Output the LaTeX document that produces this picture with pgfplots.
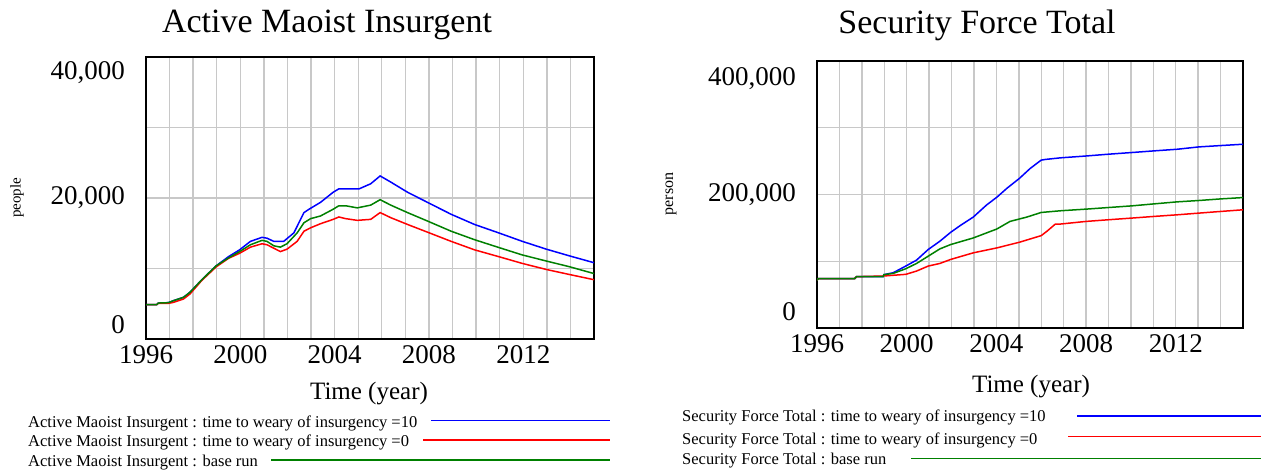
\documentclass[border=0pt]{standalone}
\usepackage{pgfplots}
\pgfplotsset{compat=1.18}
\usepackage{fontspec}
\setmainfont{Liberation Serif}
\definecolor{vblue}{RGB}{0,0,255}
\definecolor{vred}{RGB}{255,0,0}
\definecolor{vgreen}{RGB}{0,128,0}
\definecolor{vgrid}{RGB}{200,200,200}
\pgfplotsset{
  vensim/.style={
    scale only axis,
    xmin=1996, xmax=2015, ymin=0,
    scaled x ticks=false, scaled y ticks=false,
    axis line style={line width=2.8pt, black},
    major tick length=0pt, minor tick length=0pt,
    xtick={1996,2000,2004,2008,2012},
    xticklabels={1996,2000,2004,2008,2012},
    minor xtick={1997,1998,1999,2001,2002,2003,2005,2006,2007,2009,2010,2011,2013,2014},
    xmajorgrids=true, ymajorgrids=false,
    xminorgrids=true, yminorgrids=true,
    major grid style={draw=vgrid, line width=1.4pt},
    minor grid style={draw=vgrid, line width=1.4pt},
    tick label style={font=\fontsize{27}{27}\selectfont, inner sep=0pt},
    xticklabel style={anchor=north, yshift=-6pt},
    yticklabel style={anchor=east, xshift=-21pt},
    /pgf/number format/assume math mode=true,
    every axis plot/.append style={line width=1.5pt},
  }
}
\begin{document}
\begin{tikzpicture}[x=1pt,y=1pt]
\useasboundingbox (0,0) rectangle (1263,471);
% ---------------- Left panel ----------------
\begin{axis}[vensim, at={(146pt,132pt)}, anchor=south west,
  width=448pt, height=282pt, ymax=40000,
  ytick={1990,20000,37730}, yticklabels={0,{20,000},{40,000}},
  minor ytick={10000,20000,30000}]
\addplot[vblue] coordinates {(1996.0,4860) (1996.45,4860) (1996.52,5100) (1996.95,5150) (1997.16,5430) (1997.59,5910) (1997.87,6640) (1998.37,8410) (1998.98,10390) (1999.50,11680) (1999.97,12650) (2000.43,13850) (2000.92,14420) (2001.13,14300) (2001.42,13850) (2001.84,13850) (2002.27,15050) (2002.70,17930) (2002.91,18400) (2003.40,19380) (2003.94,20820) (2004.18,21300) (2005.04,21300) (2005.53,22020) (2005.93,23130) (2006.38,22260) (2007.09,20820) (2007.94,19380) (2008.94,17690) (2009.93,16250) (2010.96,15050) (2011.96,13850) (2012.98,12740) (2013.97,11780) (2015.0,10820)};
\addplot[vred] coordinates {(1996.0,4860) (1996.45,4860) (1996.52,5050) (1996.95,5050) (1997.16,5190) (1997.59,5670) (1997.87,6400) (1998.37,8320) (1998.98,10240) (1999.50,11440) (1999.97,12160) (2000.43,13030) (2000.92,13510) (2001.13,13370) (2001.70,12400) (2001.98,12740) (2002.41,13850) (2002.70,15290) (2002.98,15770) (2003.40,16350) (2003.94,16970) (2004.18,17310) (2004.47,17070) (2004.96,16830) (2005.53,16970) (2005.93,17930) (2006.38,17210) (2007.09,16250) (2007.94,15150) (2008.94,13850) (2009.93,12650) (2010.96,11680) (2011.96,10720) (2012.98,9860) (2013.97,9140) (2015.0,8410)};
\addplot[vgreen] coordinates {(1996.0,4860) (1996.45,4860) (1996.52,5100) (1996.95,5150) (1997.16,5430) (1997.59,5910) (1997.87,6640) (1998.37,8410) (1998.98,10390) (1999.50,11500) (1999.97,12400) (2000.43,13370) (2000.92,13990) (2001.13,13850) (2001.42,13220) (2001.70,13030) (2001.98,13510) (2002.41,15050) (2002.70,16490) (2002.98,17070) (2003.40,17450) (2003.94,18410) (2004.18,18900) (2004.47,18900) (2004.96,18600) (2005.53,18990) (2005.93,19760) (2006.38,18990) (2007.09,17930) (2007.94,16730) (2008.94,15290) (2009.93,14090) (2010.96,12980) (2011.96,11920) (2012.98,11060) (2013.97,10240) (2015.0,9280)};
\end{axis}
% ---------------- Right panel ----------------
\begin{axis}[vensim, at={(817pt,143pt)}, anchor=south west,
  width=426pt, height=267pt, ymax=400000,
  ytick={24000,200000,373000}, yticklabels={0,{200,000},{400,000}},
  minor ytick={100000,200000,300000}]
\addplot[vblue] coordinates {(1996.0,71400) (1996.05,73900) (1997.68,73900) (1997.76,76900) (1998.95,76900) (1998.98,79900) (1999.40,82800) (1999.96,92800) (2000.44,101700) (2000.96,117600) (2001.48,130000) (2001.96,143300) (2002.38,153300) (2002.97,166200) (2003.57,184500) (2004.02,195900) (2004.47,209300) (2005.03,224200) (2005.51,239100) (2006.0,251500) (2006.18,252500) (2006.85,254900) (2007.89,257400) (2009.01,260400) (2010.05,262900) (2011.05,265400) (2012.07,267800) (2013.03,271300) (2014.0,273300) (2015.0,275300)};
\addplot[vred] coordinates {(1996.0,71400) (1996.05,73900) (1997.68,73900) (1997.76,76900) (1998.98,77900) (1999.96,80400) (2000.44,85300) (2000.96,92800) (2001.48,96700) (2001.96,102700) (2002.97,112600) (2004.02,120000) (2005.03,128500) (2006.0,138400) (2006.25,144800) (2006.63,155700) (2006.85,155700) (2008.01,159700) (2009.01,162200) (2010.05,164700) (2011.05,167200) (2012.07,169600) (2013.03,172100) (2014.0,174600) (2015.0,177100)};
\addplot[vgreen] coordinates {(1996.0,71400) (1996.05,73900) (1997.68,73900) (1997.76,76900) (1998.95,76900) (1998.98,79900) (1999.40,81800) (1999.96,88800) (2000.44,96700) (2000.96,107600) (2001.48,118500) (2001.96,125000) (2002.97,134900) (2004.02,148300) (2004.61,159700) (2005.36,166200) (2006.0,173100) (2006.85,175600) (2008.01,178100) (2009.01,180500) (2010.05,183000) (2011.05,186000) (2012.07,189000) (2013.03,191000) (2014.0,193400) (2015.0,195400)};
\end{axis}
% ---------------- Titles and labels ----------------
\node[anchor=base, inner sep=0pt, font=\fontsize{34}{34}\selectfont] at (327,438) {Active Maoist Insurgent};
\node[anchor=base, inner sep=0pt, font=\fontsize{34}{34}\selectfont] at (977,437) {Security Force Total};
\node[anchor=base, inner sep=0pt, font=\fontsize{25}{25}\selectfont] at (369,71) {Time (year)};
\node[anchor=base, inner sep=0pt, font=\fontsize{25}{25}\selectfont] at (1031,78) {Time (year)};
\node[rotate=90, inner sep=0pt, font=\fontsize{15}{15}\selectfont] at (17,273) {people};
\node[rotate=90, inner sep=0pt, font=\fontsize{16}{16}\selectfont] at (671,277) {person};
% ---------------- Legends ----------------
\begin{scope}[font=\fontsize{16.5}{16.5}\selectfont]
\node[anchor=base west, inner sep=0pt] at (28,43.3) {Active Maoist Insurgent : time to weary of insurgency =10};
\node[anchor=base west, inner sep=0pt] at (28,24.3) {Active Maoist Insurgent : time to weary of insurgency =0};
\node[anchor=base west, inner sep=0pt] at (28,4.3) {Active Maoist Insurgent : base run};
\draw[vblue, line width=1.5pt] (431,50.3) -- (610,50.3);
\draw[vred, line width=1.5pt] (423,31) -- (610,31);
\draw[vgreen, line width=1.5pt] (271,11) -- (610,11);
\node[anchor=base west, inner sep=0pt] at (682,49.3) {Security Force Total : time to weary of insurgency =10};
\node[anchor=base west, inner sep=0pt] at (682,27) {Security Force Total : time to weary of insurgency =0};
\node[anchor=base west, inner sep=0pt] at (682,6) {Security Force Total : base run};
\draw[vblue, line width=1.5pt] (1077,55) -- (1261,55);
\draw[vred, line width=1.5pt] (1068,34.3) -- (1261,34.3);
\draw[vgreen, line width=1.5pt] (911,12.7) -- (1261,12.7);
\end{scope}
\end{tikzpicture}
\end{document}
